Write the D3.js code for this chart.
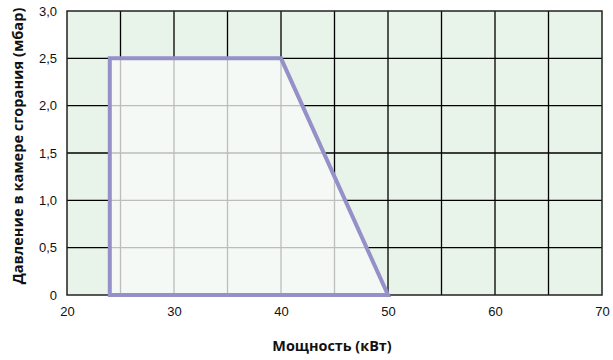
<!DOCTYPE html>
<html>
<head>
<meta charset="utf-8">
<script src="https://cdn.jsdelivr.net/npm/d3@7"></script>
<style>
  html, body { margin: 0; padding: 0; background: #fff; }
  svg { display: block; }
  .tick text { font-family: "Liberation Sans", Arial, sans-serif; font-size: 13px; fill: #111; }
  .title { font-family: "Open Sans", "DejaVu Sans", sans-serif; font-weight: bold; fill: #111; }
</style>
</head>
<body>
<script>
// Operating field: combustion chamber pressure vs. burner output
const powerKW = [24, 24, 40, 50];
const pressureMbar = [0, 2.5, 2.5, 0];

const xTicks = [20, 30, 40, 50, 60, 70];
const xTickLabels = ["20", "30", "40", "50", "60", "70"];
const yTicks = [0, 0.5, 1.0, 1.5, 2.0, 2.5, 3.0];
const yTickLabels = ["0", "0,5", "1,0", "1,5", "2,0", "2,5", "3,0"];
const xGrid = [25, 30, 35, 40, 45, 50, 55, 60, 65];
const yGrid = [0.5, 1.0, 1.5, 2.0, 2.5];

const xTitle = "Мощность (кВт)";
const yTitle = "Давление в камере сгорания (мбар)";

const W = 613, H = 360;
const m = { top: 11, right: 11, bottom: 65, left: 67 };
const iw = W - m.left - m.right, ih = H - m.top - m.bottom;

const x = d3.scaleLinear().domain([20, 70]).range([0, iw]);
const y = d3.scaleLinear().domain([0, 3]).range([ih, 0]);

const svg = d3.select("body").append("svg").attr("width", W).attr("height", H);
const g = svg.append("g").attr("transform", `translate(${m.left},${m.top})`);

// plot background
g.append("rect").attr("width", iw).attr("height", ih).attr("fill", "#e8f3e9");

// dark grid outside the operating field
const gridDark = g.append("g").attr("stroke", "#000").attr("stroke-width", 1.3);
gridDark.selectAll("line.v").data(xGrid).join("line")
  .attr("x1", d => x(d)).attr("x2", d => x(d)).attr("y1", 0).attr("y2", ih);
gridDark.selectAll("line.h").data(yGrid).join("line")
  .attr("x1", 0).attr("x2", iw).attr("y1", d => y(d)).attr("y2", d => y(d));

const pts = powerKW.map((p, i) => [x(p), y(pressureMbar[i])]);
const area = d3.line()(pts) + "Z";

svg.append("defs").append("clipPath").attr("id", "field")
  .append("path").attr("d", area);

// operating field fill with light grid
g.append("path").attr("d", area).attr("fill", "#f4f9f5");
const gridLight = g.append("g").attr("clip-path", "url(#field)")
  .attr("stroke", "#bdbdbd").attr("stroke-width", 1.3);
gridLight.selectAll("line.v").data(xGrid).join("line")
  .attr("x1", d => x(d)).attr("x2", d => x(d)).attr("y1", 0).attr("y2", ih);
gridLight.selectAll("line.h").data(yGrid).join("line")
  .attr("x1", 0).attr("x2", iw).attr("y1", d => y(d)).attr("y2", d => y(d));

// plot frame
g.append("rect").attr("width", iw).attr("height", ih)
  .attr("fill", "none").attr("stroke", "#222").attr("stroke-width", 1.5);

// operating field outline
g.append("path").attr("d", area).attr("fill", "none")
  .attr("stroke", "#9590c8").attr("stroke-width", 4).attr("stroke-linejoin", "miter");

// axes
const xAxis = d3.axisBottom(x).tickValues(xTicks)
  .tickFormat((d, i) => xTickLabels[i]).tickSize(0).tickPadding(12);
g.append("g").attr("transform", `translate(0,${ih})`).call(xAxis)
  .call(s => s.select(".domain").remove());

const yAxis = d3.axisLeft(y).tickValues(yTicks)
  .tickFormat((d, i) => yTickLabels[i]).tickSize(0).tickPadding(10);
g.append("g").call(yAxis).call(s => s.select(".domain").remove());

// axis titles
svg.append("text").attr("class", "title")
  .attr("x", 332).attr("y", 351).attr("text-anchor", "middle")
  .style("font-size", "14.4px")
  .text(xTitle);
svg.append("text").attr("class", "title")
  .attr("transform", `translate(23,146) rotate(-90)`)
  .attr("text-anchor", "middle").style("font-size", "14.6px").text(yTitle);
</script>
</body>
</html>
